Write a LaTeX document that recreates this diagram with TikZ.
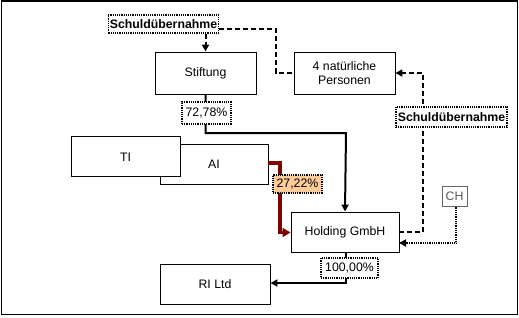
\documentclass[tikz,border=0pt]{standalone}
\usepackage{fontspec}
\setmainfont{Liberation Sans}
\usetikzlibrary{arrows.meta}
\definecolor{darkred}{HTML}{800000}
\definecolor{peach}{HTML}{FFCC99}
\newcommand{\fsz}{\fontsize{12.3}{14}\selectfont}
\begin{document}
\begin{tikzpicture}[x=1pt,y=-1pt,
  box/.style={draw=black,line width=0.9pt,fill=white,minimum width=#1,inner sep=0pt,font=\fsz},
  box/.default=101pt,
  lbl/.style={draw=black,densely dotted,line width=1.2pt,fill=white,inner sep=1.5pt,font=\fsz},
  own/.style={line width=2pt,-{Triangle[length=7pt,width=7pt]}},
  debt/.style={line width=2pt,dash pattern=on 5pt off 3pt,-{Triangle[length=7pt,width=7pt]}},
  ch/.style={line width=1.8pt,dash pattern=on 1pt off 0.8pt,-{Triangle[length=7pt,width=7pt]}},
]
\useasboundingbox (0,0) rectangle (519,317);
\draw[line width=1pt] (1.3,1) -- (517,1) -- (517,314.5) -- (1.3,314.5) -- cycle;
\draw[line width=1.4pt] (0.5,1) -- (517.5,1);

% boxes
\node[box=101pt,minimum height=42pt] (stift) at (205.5,73) {Stiftung};
\node[box=101pt,minimum height=42pt,align=center] (pers) at (344.5,73) {4 natürliche\\Personen};
\node[box=108pt,minimum height=40pt] (ai) at (214,164) {\raisebox{-3pt}{AI}};
\node[box=109pt,minimum height=40pt] (ti) at (125.5,156) {};
\node[font=\fsz] (titext) at (125.5,157) {TI};
\node[box=108pt,minimum height=40pt] (hold) at (345,232) {Holding GmbH};
\node[box=110pt,minimum height=40pt] (ri) at (215,284) {RI Ltd};
\node[draw=black!60,line width=1pt,fill=white,minimum width=25pt,minimum height=20pt,inner sep=0pt,text=black!65,font=\fsz] (ch) at (454.5,196) {CH};

% connector coordinates
\coordinate (s1) at (205.5,133);
\coordinate (h1) at (346,133);
\coordinate (a1) at (280,163);
\coordinate (a2) at (280,232.5);
\coordinate (r1) at (346,283);
\coordinate (d1) at (276,29);
\coordinate (d2) at (276,73);
\coordinate (e1) at (423,73);
\coordinate (e2) at (423,232);
\coordinate (c1) at (456,243);
\coordinate (c2) at (399,243);

% ownership
\draw[own] (stift.south) -- (s1) -- (h1) -- (hold.north);
\draw[own,darkred,line width=3.5pt,-{Triangle[length=8pt,width=9pt]}] (ai.east |- a1) -- (a1) -- (a2) -- (hold.west |- a2);
\draw[own] (hold.south -| r1) -- (r1) -- (ri.east |- r1);

% debt takeover lines
\node[lbl,font=\bfseries\fsz,minimum width=109pt,minimum height=18pt] (sch1) at (163.5,24) {Schuldübernahme};
\draw[debt] (sch1.south -| stift.north) -- (stift.north);
\draw[line width=2pt,dash pattern=on 5pt off 3pt] (sch1.east |- d1) -- (d1) -- (d2) -- (pers.west |- d2);
\draw[debt] (hold.east |- e2) -- (e2) -- (e1) -- (pers.east |- e1);
\node[lbl,font=\bfseries\fsz,minimum width=111pt,minimum height=20pt] (sch2) at (451.5,117) {Schuldübernahme};

% CH line
\draw[ch] (ch.south -| c1) -- (c1) -- (c2);

% percentage labels
\node[lbl,minimum width=49pt,minimum height=22pt] (p1) at (206.5,113) {72,78\%};
\node[lbl,fill=peach,minimum width=49pt,minimum height=18pt] (p2) at (297.5,184) {27,22\%};
\node[lbl,minimum width=57pt,minimum height=20pt] (p3) at (349.5,268) {100,00\%};
\end{tikzpicture}
\end{document}
